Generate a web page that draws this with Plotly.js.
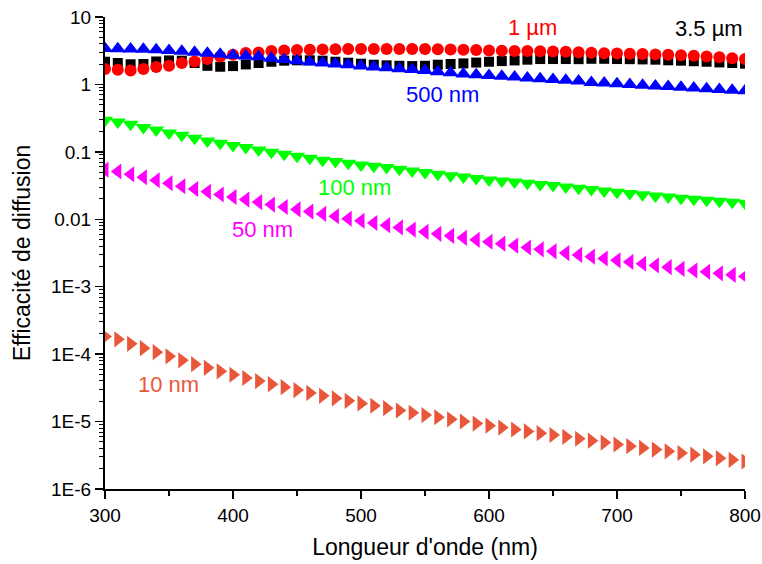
<!DOCTYPE html>
<html>
<head>
<meta charset="utf-8">
<script src="https://cdn.plot.ly/plotly-3.0.1.min.js"></script>
<style>html,body{margin:0;padding:0;background:#fff;}#chart{width:762px;height:564px;}</style>
</head>
<body>
<div id="chart"></div>
<script>
const wavelength = [300,310,320,330,340,350,360,370,380,390,400,410,420,430,440,450,460,470,480,490,500,510,520,530,540,550,560,570,580,590,600,610,620,630,640,650,660,670,680,690,700,710,720,730,740,750,760,770,780,790,800];

const eff_3500nm = [2.17,2.08,1.99,2.01,2.19,2.27,2.25,2.08,1.89,1.83,1.87,1.98,2.08,2.17,2.25,2.28,2.28,2.25,2.17,2.10,2.03,1.96,1.92,1.89,1.87,1.89,1.96,2.01,2.05,2.11,2.17,2.22,2.27,2.33,2.38,2.38,2.38,2.37,2.40,2.40,2.38,2.37,2.35,2.33,2.28,2.25,2.21,2.17,2.12,2.08,2.03];
const eff_1000nm = [1.69,1.65,1.61,1.69,1.81,1.89,2.08,2.19,2.38,2.60,2.76,2.92,2.98,3.13,3.19,3.24,3.27,3.31,3.33,3.35,3.36,3.36,3.36,3.36,3.36,3.35,3.33,3.30,3.27,3.24,3.19,3.16,3.14,3.12,3.10,3.09,3.05,3.00,2.95,2.91,2.88,2.85,2.82,2.79,2.76,2.71,2.67,2.60,2.53,2.45,2.38];
const eff_500nm = [3.41,3.39,3.35,3.33,3.26,3.18,3.11,3.00,2.90,2.81,2.71,2.65,2.58,2.45,2.35,2.25,2.16,2.08,2.01,1.95,1.88,1.82,1.77,1.71,1.66,1.61,1.54,1.49,1.43,1.39,1.36,1.32,1.29,1.25,1.21,1.18,1.15,1.12,1.07,1.05,1.02,1.00,0.973,0.950,0.928,0.906,0.884,0.863,0.843,0.823,0.804];
const eff_100nm = [0.294,0.278,0.257,0.229,0.211,0.191,0.176,0.159,0.145,0.134,0.124,0.116,0.107,0.0987,0.0921,0.0860,0.0804,0.0751,0.0718,0.0678,0.0639,0.0612,0.0585,0.0552,0.0521,0.0495,0.0465,0.0444,0.0423,0.0403,0.0384,0.0370,0.0356,0.0343,0.0329,0.0316,0.0302,0.0288,0.0276,0.0263,0.0252,0.0241,0.0232,0.0222,0.0214,0.0205,0.0198,0.0191,0.0185,0.0179,0.0173];
const eff_50nm = [0.0543,0.0512,0.0465,0.0420,0.0379,0.0342,0.0309,0.0281,0.0256,0.0233,0.0214,0.0196,0.0180,0.0165,0.0152,0.0140,0.0130,0.0120,0.0111,0.0102,0.00950,0.00881,0.00818,0.00758,0.00703,0.00652,0.00609,0.00569,0.00531,0.00496,0.00464,0.00435,0.00407,0.00382,0.00358,0.00335,0.00315,0.00296,0.00279,0.00262,0.00246,0.00233,0.00219,0.00207,0.00195,0.00184,0.00174,0.00166,0.00158,0.00150,0.00142];
const eff_10nm = [1.824e-4,1.658e-4,1.421e-4,1.227e-4,1.071e-4,9.28e-5,8.09e-5,7.11e-5,6.26e-5,5.56e-5,4.95e-5,4.43e-5,3.99e-5,3.59e-5,3.24e-5,2.93e-5,2.66e-5,2.41e-5,2.21e-5,2.03e-5,1.86e-5,1.716e-5,1.580e-5,1.461e-5,1.351e-5,1.249e-5,1.158e-5,1.078e-5,1.003e-5,9.34e-6,8.69e-6,8.15e-6,7.63e-6,7.15e-6,6.73e-6,6.33e-6,5.93e-6,5.56e-6,5.21e-6,4.88e-6,4.57e-6,4.32e-6,4.07e-6,3.84e-6,3.62e-6,3.42e-6,3.23e-6,3.05e-6,2.87e-6,2.71e-6,2.56e-6];

const seriesNames = ['3.5 µm','1 µm','500 nm','100 nm','50 nm','10 nm'];
const yTickVals = [10,1,0.1,0.01,1e-3,1e-4,1e-5,1e-6];
const yTickText = ['10','1','0.1','0.01','1E-3','1E-4','1E-5','1E-6'];
const xTickVals = [300,400,500,600,700,800];

const FONT = 'Liberation Sans, Arial, sans-serif';

function tr(y, name, symbol, color, size) {
  return {x: wavelength, y: y, name: name, type: 'scatter', mode: 'markers',
    marker: {symbol: symbol, color: color, size: size, line: {width: 0}}};
}

const data = [
  tr(eff_3500nm, seriesNames[0], 'square', '#000000', 10),
  tr(eff_1000nm, seriesNames[1], 'circle', '#FF0000', 12),
  tr(eff_500nm, seriesNames[2], 'triangle-up', '#0000FF', 14),
  tr(eff_100nm, seriesNames[3], 'triangle-down', '#00FF00', 14),
  tr(eff_50nm, seriesNames[4], 'triangle-left', '#FF00FF', 14),
  tr(eff_10nm, seriesNames[5], 'triangle-right', '#E9573A', 14)
];

function ann(text, x, ylog, color) {
  return {text: text, x: x, y: ylog, xref: 'x', yref: 'y', showarrow: false,
    xanchor: 'center', yanchor: 'middle', font: {family: FONT, size: 22, color: color}};
}

const layout = {
  width: 762, height: 564,
  margin: {l: 105, r: 17, t: 17, b: 75},
  paper_bgcolor: '#fff', plot_bgcolor: '#fff',
  showlegend: false,
  font: {family: FONT, color: '#000'},
  xaxis: {
    range: [300, 800], showgrid: false, zeroline: false,
    showline: true, linecolor: '#000', linewidth: 2,
    tickmode: 'array', tickvals: xTickVals,
    ticks: 'outside', ticklen: 8, tickwidth: 1.5, tickcolor: '#000',
    minor: {ticks: 'outside', ticklen: 5, tickwidth: 1.5, tickcolor: '#000', dtick: 50, tick0: 300},
    tickfont: {family: FONT, size: 19, color: '#000'},
    title: {text: "Longueur d'onde (nm)", font: {family: FONT, size: 23, color: '#000'}, standoff: 14}
  },
  yaxis: {
    type: 'log', range: [-6, 1], showgrid: false, zeroline: false,
    showline: true, linecolor: '#000', linewidth: 2,
    tickmode: 'array', tickvals: yTickVals, ticktext: yTickText,
    ticks: 'outside', ticklen: 8, tickwidth: 1.5, tickcolor: '#000',
    minor: {ticks: 'outside', ticklen: 4, tickwidth: 1, tickcolor: '#000', dtick: 'D1'},
    tickfont: {family: FONT, size: 19, color: '#000'},
    title: {text: 'Efficacité de diffusion', font: {family: FONT, size: 23, color: '#000'}, standoff: 14}
  },
  annotations: [
    ann('1 µm', 633.6, 0.841, '#FF0000'),
    ann('3.5 µm', 771.9, 0.826, '#000000'),
    ann('500 nm', 563.3, -0.153, '#0000FF'),
    ann('100 nm', 494.9, -1.533, '#00FF00'),
    ann('50 nm', 423.4, -2.148, '#FF00FF'),
    ann('10 nm', 349.6, -4.455, '#E9573A')
  ]
};

Plotly.newPlot('chart', data, layout, {displayModeBar: false, staticPlot: true});
</script>
</body>
</html>
